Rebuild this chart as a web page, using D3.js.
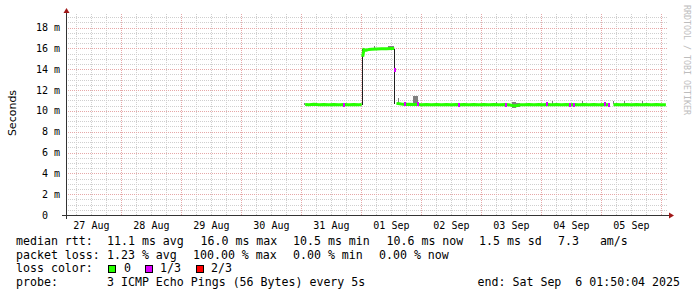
<!DOCTYPE html>
<html>
<head>
<meta charset="utf-8">
<script src="https://cdn.jsdelivr.net/npm/d3@7/dist/d3.min.js"></script>
<style>
  body { margin: 0; background: #fff; }
  svg text { font-family: "DejaVu Sans Mono", monospace; white-space: pre; }
</style>
</head>
<body>
<div class="vis-holder"></div>
<script>
const width = 697;
const height = 297;

// median rtt samples, hours after 31 Aug 00:00 (UTC)
const sampleHours = [1.5, 3, 5, 7, 9, 11, 13, 15, 17.2, 19, 21, 23, 24.1, 24.5, 25, 26, 27, 28, 30, 32, 34, 36, 37.1, 37.5,
    38, 40, 41.4, 43, 45, 46.8, 48, 50, 52, 54, 56, 58, 60, 62, 63.2, 65, 67, 69, 71, 73, 75, 77, 79, 81.7, 83, 84.5, 86, 87.5,
    89, 91, 93, 95, 96.5, 98.4, 100, 102, 104, 106, 107.4, 109, 111, 113, 115, 117, 119, 121.4, 122.4, 123.2, 124, 124.8,
    126, 128, 130, 132, 134, 136, 138, 140, 142, 144, 145.8];
const medianMs = [10.62, 10.60, 10.63, 10.60, 10.61, 10.60, 10.62, 10.60, 10.61, 10.60, 10.62, 10.60, 10.61, 15.2, 15.88, 15.82, 15.90, 15.92, 15.95, 15.97, 15.96, 16.0, 15.98, 13.9,
    10.72, 10.65, 10.62, 10.63, 10.62, 10.62, 10.60, 10.61, 10.60, 10.62, 10.60, 10.61, 10.60, 10.62, 10.60, 10.61, 10.60, 10.62, 10.60, 10.61, 10.60, 10.62, 10.60, 10.61, 10.58, 10.52, 10.50, 10.58,
    10.60, 10.62, 10.60, 10.61, 10.60, 10.62, 10.60, 10.61, 10.60, 10.62, 10.60, 10.61, 10.60, 10.62, 10.60, 10.61, 10.60, 10.62, 10.60, 10.61, null, 10.60,
    10.62, 10.60, 10.61, 10.60, 10.62, 10.60, 10.61, 10.60, 10.62, 10.60, 10.60];
// pings lost out of 3
const lossCount = [0, 0, 0, 0, 0, 0, 0, 0, 1, 0, 0, 0, 0, 0, 0, 0, 0, 0, 0, 0, 0, 0, 0, 1,
    0, 0, 1, 0, 0, 1, 0, 0, 0, 0, 0, 0, 0, 0, 1, 0, 0, 0, 0, 0, 0, 0, 0, 1, 0, 0, 0, 0,
    0, 0, 0, 0, 0, 1, 0, 0, 0, 0, 1, 1, 0, 0, 0, 0, 0, 1, 0, 1, 3, 0,
    0, 0, 0, 0, 0, 0, 0, 0, 0, 0, 0];

// smoke (spread of the pings), hours and ms
const smokeFrom = [1.2, 24.3, 37.2, 29.2, 34.6, 38.8, 44.8, 78, 84.2, 85.6, 100.4, 112.4, 124.8, 129.2, 136.4];
const smokeTo   = [1.6, 24.7, 37.6, 29.6, 37.0, 39.2, 46.8, 78.4, 85.6, 87.4, 100.8, 112.8, 125.2, 129.6, 136.8];
const smokeLo   = [10.55, 10.6, 10.7, 15.92, 15.95, 10.7, 10.7, 10.65, 10.25, 10.4, 10.65, 10.65, 10.65, 10.65, 10.65];
const smokeHi   = [10.75, 15.95, 15.98, 16.2, 16.25, 11.2, 11.45, 10.9, 10.9, 10.75, 10.95, 10.95, 10.95, 10.95, 10.95];

const yTicks = [0, 2, 4, 6, 8, 10, 12, 14, 16, 18];
const yTickLabels = ["0  ", "2 m", "4 m", "6 m", "8 m", "10 m", "12 m", "14 m", "16 m", "18 m"];
const dayLabels = ["27 Aug", "28 Aug", "29 Aug", "30 Aug", "31 Aug", "01 Sep", "02 Sep", "03 Sep", "04 Sep", "05 Sep"];

const lossNames = ["0", "1/3", "2/3"];
const lossColors = ["#26ff00", "#dd00ff", "#ff0000"];

const rttStats = ["11.1 ms avg", "16.0 ms max", "10.5 ms min", "10.6 ms now", "1.5 ms sd", "7.3   am/s"];
const lossStats = ["1.23 % avg", "100.00 % max", "0.00 % min", "0.00 % now"];
const probeText = "3 ICMP Echo Pings (56 Bytes) every 5s";
const endText = "end: Sat Sep  6 01:50:04 2025";

const svg = d3.select(".vis-holder").append("svg")
    .attr("width", width)
    .attr("height", height)
    .style("display", "block");

const t0 = new Date(Date.UTC(2025, 7, 27, 1, 50, 4));
const t1 = new Date(Date.UTC(2025, 8, 6, 1, 50, 4));
const base = Date.UTC(2025, 7, 31);
const hourDate = h => new Date(base + h * 3600e3);

const x = d3.scaleUtc().domain([t0, t1]).range([66, 666]);
const y = d3.scaleLinear().domain([0, 19.4]).range([215, 13]);
const px = v => Math.round(v) + 0.5;

// grid
const grid = svg.append("g").attr("shape-rendering", "crispEdges").attr("fill", "none");
const midnights = d3.utcDay.range(t0, t1);
const labelDays = d3.utcDay.range(d3.utcDay.floor(t0), d3.utcDay.floor(t1));
const quarters = d3.utcHour.every(6).range(t0, t1).filter(d => d.getUTCHours() !== 0);
const minorY = d3.range(1, 39).map(i => i * 0.5).filter(v => v % 2 !== 0);

grid.selectAll(".minx").data(quarters).enter().append("line")
    .attr("x1", d => px(x(d))).attr("x2", d => px(x(d)))
    .attr("y1", y(0)).attr("y2", 13)
    .attr("stroke", "#cfcfcf").attr("stroke-dasharray", "1,1");
grid.selectAll(".miny").data(minorY).enter().append("line")
    .attr("x1", 66).attr("x2", 667)
    .attr("y1", d => px(y(d))).attr("y2", d => px(y(d)))
    .attr("stroke", "#cfcfcf").attr("stroke-dasharray", "1,1");
grid.selectAll(".majx").data(midnights).enter().append("line")
    .attr("x1", d => px(x(d))).attr("x2", d => px(x(d)))
    .attr("y1", y(0)).attr("y2", 13)
    .attr("stroke", "#e6a8a8").attr("stroke-dasharray", "1,1");
grid.selectAll(".majy").data(yTicks.slice(1)).enter().append("line")
    .attr("x1", 66).attr("x2", 667)
    .attr("y1", d => px(y(d))).attr("y2", d => px(y(d)))
    .attr("stroke", "#e6a8a8").attr("stroke-dasharray", "1,1");

// smoke
svg.append("g").attr("shape-rendering", "crispEdges").selectAll("rect")
    .data(smokeFrom.map((f, i) => ({ f, t: smokeTo[i], lo: smokeLo[i], hi: smokeHi[i] })))
    .enter().append("rect")
    .attr("x", d => Math.round(x(hourDate(d.f))))
    .attr("width", d => Math.max(1, Math.round(x(hourDate(d.t)) - x(hourDate(d.f)))))
    .attr("y", d => y(d.hi))
    .attr("height", d => y(d.lo) - y(d.hi))
    .attr("fill", d => d.hi - d.lo > 2 ? "#1e1e1e" : "#808080");

// median line, broken at full loss and at big jumps
const pts = sampleHours.map((h, i) => ({ t: hourDate(h), v: medianMs[i], loss: lossCount[i] }));
const runs = [];
let cur = [];
pts.forEach(p => {
    if (p.loss >= 3 || p.v === null) {
        if (cur.length) runs.push(cur);
        cur = [];
        return;
    }
    if (cur.length && Math.abs(p.v - cur[cur.length - 1].v) > 2) {
        runs.push(cur);
        cur = [];
    }
    cur.push(p);
});
if (cur.length) runs.push(cur);

const line = d3.line().x(d => x(d.t)).y(d => y(d.v));
const med = svg.append("g");
runs.filter(r => r.length > 1).forEach(r => {
    med.append("path").attr("d", line(r))
        .attr("fill", "none").attr("stroke", lossColors[0]).attr("stroke-width", 3);
});
const marks = pts.filter(p => p.v !== null && p.loss < 3 &&
    (p.loss > 0 || runs.some(r => r.length === 1 && r[0] === p)));
med.selectAll("rect").data(marks).enter().append("rect")
    .attr("shape-rendering", "crispEdges")
    .attr("x", d => Math.round(x(d.t)) - 1).attr("width", 2)
    .attr("y", d => Math.round(y(d.v)) - 2).attr("height", 4)
    .attr("fill", d => lossColors[d.loss]);

// axes
const axisG = svg.append("g").attr("shape-rendering", "crispEdges");
axisG.append("line").attr("x1", 62).attr("x2", 670).attr("y1", 215.5).attr("y2", 215.5).attr("stroke", "#333");
axisG.append("line").attr("x1", 66.5).attr("x2", 66.5).attr("y1", 219).attr("y2", 11).attr("stroke", "#333");
svg.append("path").attr("d", "M669,212.5L674,215.5L669,218.5Z").attr("fill", "#a01818");
svg.append("path").attr("d", "M63.5,13L66.5,8L69.5,13Z").attr("fill", "#a01818");

svg.append("g").selectAll("text").data(yTicks).enter().append("text")
    .attr("x", 60).attr("y", d => y(d) + 3.5)
    .attr("text-anchor", "end").attr("font-size", 10)
    .text((d, i) => yTickLabels[i]);

svg.append("g").selectAll("text").data(labelDays).enter().append("text")
    .attr("x", d => x(d3.utcHour.offset(d, 12)))
    .attr("y", 228.5)
    .attr("text-anchor", "middle").attr("font-size", 10)
    .text((d, i) => dayLabels[i]);

svg.append("text")
    .attr("transform", "translate(15.5,113) rotate(-90)")
    .attr("text-anchor", "middle")
    .style("font-family", "'DejaVu Sans', sans-serif")
    .attr("font-size", 11)
    .text("Seconds");

svg.append("text")
    .attr("transform", "translate(684,5) rotate(90)")
    .attr("font-size", 8.3).attr("fill", "#bdbdbd")
    .text("RRDTOOL / TOBI OETIKER");

// legend
const lg = svg.append("g").attr("font-size", 11.6);
const rowY = [245, 258.7, 272.4, 286];
lg.append("text").attr("x", 16).attr("y", rowY[0]).text("median rtt:");
const rttX = [107, 200.5, 293, 386.5, 479, 558];
rttStats.forEach((s, i) => lg.append("text").attr("x", rttX[i]).attr("y", rowY[0]).text(s));
lg.append("text").attr("x", 16).attr("y", rowY[1]).text("packet loss:");
const lossX = [107, 193, 293, 379];
lossStats.forEach((s, i) => lg.append("text").attr("x", lossX[i]).attr("y", rowY[1]).text(s));
lg.append("text").attr("x", 16).attr("y", rowY[2]).text("loss color:");
const boxX = [108.5, 145.5, 196.5];
const nameX = [124, 160, 211];
lossNames.forEach((n, i) => {
    lg.append("rect").attr("x", boxX[i]).attr("y", 265.5).attr("width", 7).attr("height", 7)
        .attr("fill", lossColors[i]).attr("stroke", "#000").attr("stroke-width", 1);
    lg.append("text").attr("x", nameX[i]).attr("y", rowY[2]).text(n);
});
lg.append("text").attr("x", 16).attr("y", rowY[3]).text("probe:");
lg.append("text").attr("x", 107).attr("y", rowY[3]).text(probeText);
lg.append("text").attr("x", 680).attr("y", rowY[3]).attr("text-anchor", "end").text(endText);
</script>
</body>
</html>
